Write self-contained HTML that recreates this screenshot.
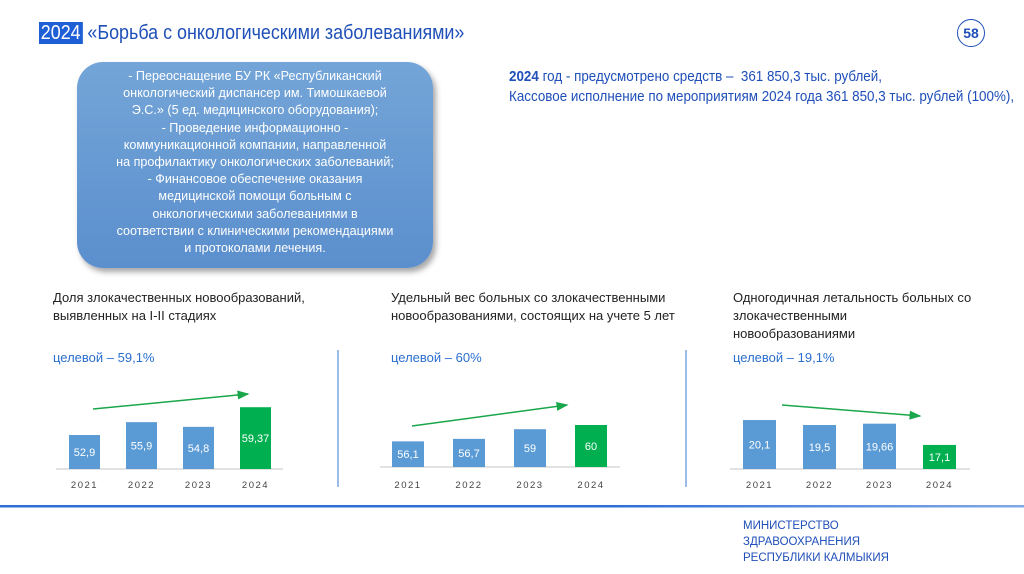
<!DOCTYPE html>
<html><head><meta charset="utf-8">
<style>
body{margin:0;width:1024px;height:574px;background:#fff;position:relative;overflow:hidden;font-family:"Liberation Sans",sans-serif;}
.abs{position:absolute;}
.title{left:39px;top:22px;font-size:20px;color:#1f4fb8;white-space:nowrap;transform:scaleX(0.895);transform-origin:0 0;}
.title .yr{background:#1f5fd6;color:#fff;padding:0 2px;}
.pg{left:957px;top:19px;width:26px;height:26px;border:1.5px solid #1f4fb8;border-radius:50%;text-align:center;line-height:26px;font-size:14px;font-weight:bold;color:#1f4fb8;}
.box{left:77px;top:62px;width:356px;height:206px;border-radius:26px;background:linear-gradient(#74a5d8,#5b8fcd);box-shadow:3px 4px 6px rgba(0,0,0,.35);color:#fff;font-size:12.6px;line-height:17.2px;text-align:center;box-sizing:border-box;padding-top:6px;white-space:nowrap;}
.info{left:509px;top:67px;font-size:14.5px;color:#1f4fb8;line-height:20px;white-space:nowrap;transform:scaleX(0.925);transform-origin:0 0;}
.ctitle{font-size:13px;color:#222;line-height:18px;}
.target{font-size:13px;color:#2a6fd0;}
.min{left:743px;top:518px;font-size:11.5px;color:#1f4fb8;line-height:16px;}
</style></head><body>
<div class="abs title"><span class="yr">2024</span> «Борьба с онкологическими заболеваниями»</div>
<div class="abs pg">58</div>
<div class="abs box">- Переоснащение БУ РК «Республиканский<br>онкологический диспансер им. Тимошкаевой<br>Э.С.» (5 ед. медицинского оборудования);<br>- Проведение информационно -<br>коммуникационной компании, направленной<br>на профилактику онкологических заболеваний;<br>- Финансовое обеспечение оказания<br>медицинской помощи больным с<br>онкологическими заболеваниями в<br>соответствии с клиническими рекомендациями<br>и протоколами лечения.</div>
<div class="abs info"><b>2024</b> год - предусмотрено средств – &nbsp;361 850,3 тыс. рублей,<br>Кассовое исполнение по мероприятиям 2024 года 361 850,3 тыс. рублей (100%),</div>
<div class="abs ctitle" style="left:53px;top:289px">Доля злокачественных новообразований,<br>выявленных на I-II стадиях</div>
<div class="abs ctitle" style="left:391px;top:289px">Удельный вес больных со злокачественными<br>новообразованиями, состоящих на учете 5 лет</div>
<div class="abs ctitle" style="left:733px;top:289px">Одногодичная летальность больных со<br>злокачественными<br>новообразованиями</div>
<div class="abs target" style="left:53px;top:350px">целевой – 59,1%</div>
<div class="abs target" style="left:391px;top:350px">целевой – 60%</div>
<div class="abs target" style="left:733px;top:350px">целевой – 19,1%</div>
<svg class="abs" style="left:0;top:0" width="1024" height="574" id="charts">
<defs>
<marker id="ah" markerWidth="8" markerHeight="6" refX="7" refY="3" orient="auto"><path d="M0,0 L8,3 L0,6 z" fill="#1aa64a"/></marker>
<linearGradient id="bl" x1="0" x2="1"><stop offset="0" stop-color="#2d6fd6"/><stop offset="0.6" stop-color="#2d6fd6"/><stop offset="1" stop-color="#2d6fd6" stop-opacity="0.6"/></linearGradient>
</defs>
<line x1="338" y1="350" x2="338" y2="487" stroke="#5b8fd8" stroke-width="1.2"/>
<line x1="686" y1="350" x2="686" y2="487" stroke="#5b8fd8" stroke-width="1.2"/>
<rect x="0" y="505" width="1024" height="2.5" fill="url(#bl)"/>
</svg>
<div class="abs min">МИНИСТЕРСТВО<br>ЗДРАВООХРАНЕНИЯ<br>РЕСПУБЛИКИ КАЛМЫКИЯ</div>
<script>
const years = ["2021","2022","2023","2024"];
const c1Values = [52.9, 55.9, 54.8, 59.37];
const c1Labels = ["52,9","55,9","54,8","59,37"];
const c2Values = [56.1, 56.7, 59, 60];
const c2Labels = ["56,1","56,7","59","60"];
const c3Values = [20.1, 19.5, 19.66, 17.1];
const c3Labels = ["20,1","19,5","19,66","17,1"];
const NS="http://www.w3.org/2000/svg";
const svg=document.getElementById('charts');
function mk(t,a){const e=document.createElementNS(NS,t);for(const k in a)e.setAttribute(k,a[k]);svg.appendChild(e);return e;}
function chart(id,vals,labels,cfg){
  const y=v=>cfg.base-(v-cfg.zero)*cfg.k;
  const ax=mk('line',{x1:cfg.axL,x2:cfg.axR,y1:cfg.base,y2:cfg.base,stroke:'#d9d9d9','stroke-width':1.5});
  
  
  vals.forEach((v,i)=>{
    const x=cfg.x0+i*cfg.step, top=y(v);
    const r=mk('rect',{x:x,y:top,width:cfg.w,height:cfg.base-top,fill:i===3?'#00b050':'#5b9bd5'});
    
    
    const t=mk('text',{x:x+cfg.w/2,y:(top+cfg.base)/2+4,'text-anchor':'middle','font-size':11,fill:'#fff','font-family':'Liberation Sans, sans-serif'});
    t.textContent=labels[i];
    
    
    const yl=mk('text',{x:x+cfg.w/2,y:488,'text-anchor':'middle','font-size':9.5,fill:'#444','letter-spacing':'1.5','font-family':'Liberation Sans, sans-serif'});
    yl.textContent=years[i];
    
    
  });
  const a=mk('line',{x1:cfg.ar[0],y1:cfg.ar[1],x2:cfg.ar[2],y2:cfg.ar[3],stroke:'#1aa64a','stroke-width':1.5,'marker-end':'url(#ah)'});
  
  
}
chart('chart1',c1Values,c1Labels,{base:469,zero:45,k:4.3,x0:69,step:57,w:31,axL:56,axR:283,ar:[93,409,248,394]});
chart('chart2',c2Values,c2Labels,{base:467,zero:50,k:4.2,x0:392,step:61,w:32,axL:380,axR:620,ar:[412,426,567,405]});
chart('chart3',c3Values,c3Labels,{base:469,zero:14.2,k:8.3,x0:743,step:60,w:33,axL:730,axR:970,ar:[782,405,920,416]});
</script>
</body></html>
